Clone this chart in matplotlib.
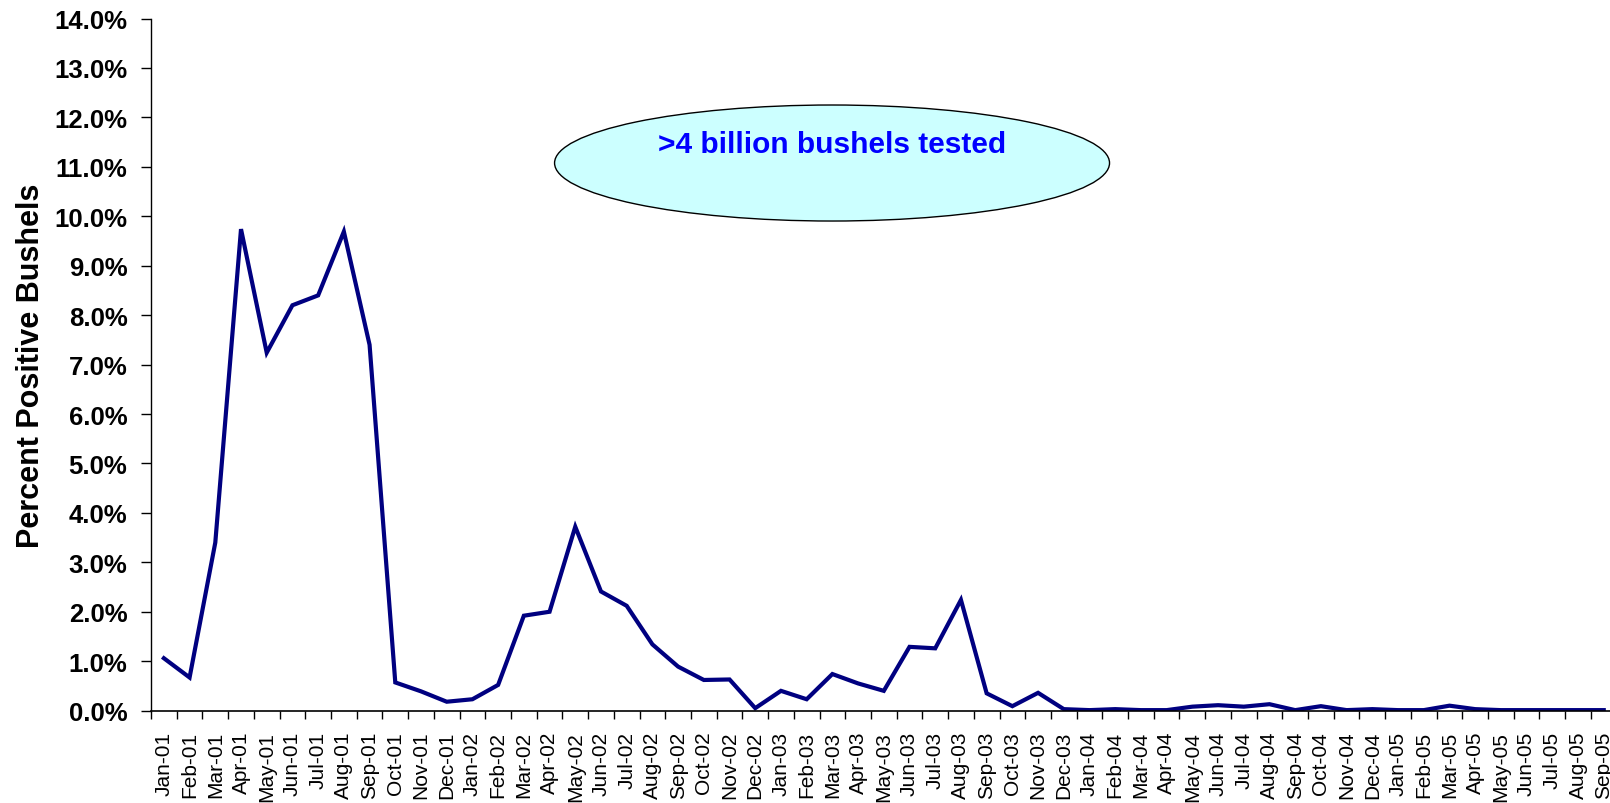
import numpy as np
import matplotlib
matplotlib.use('Agg')
import matplotlib.pyplot as plt
from matplotlib.patches import Ellipse
from matplotlib.ticker import FuncFormatter

plt.rcParams['font.family'] = ['Liberation Sans', 'DejaVu Sans']

# Meses (Jan-01 ... Sep-05)
months = ['Jan', 'Feb', 'Mar', 'Apr', 'May', 'Jun',
          'Jul', 'Aug', 'Sep', 'Oct', 'Nov', 'Dec']
labels = ['%s-%02d' % (m, y) for y in range(1, 6) for m in months][:57]

# Percentual de bushels positivos
pct = [1.06, 0.67, 3.40, 9.74, 7.24, 8.20, 8.40, 9.69, 7.40, 0.57, 0.39, 0.18,
       0.23, 0.52, 1.92, 2.00, 3.72, 2.41, 2.12, 1.34, 0.89, 0.62, 0.63, 0.05,
       0.40, 0.23, 0.74, 0.55, 0.40, 1.29, 1.26, 2.24, 0.35, 0.09, 0.36, 0.03,
       0.01, 0.03, 0.01, 0.01, 0.08, 0.11, 0.08, 0.13, 0.01, 0.09, 0.01, 0.03,
       0.01, 0.01, 0.10, 0.03, 0.01, 0.01, 0.01, 0.01, 0.01]

annot_text = '>4 billion bushels tested'

x = np.arange(len(pct))

fig = plt.figure(figsize=(16.10, 8.04), dpi=100)
ax = fig.add_axes([0.0938, 0.1149, 0.9103, 0.8608])

ax.plot(x, pct, color='#000080', lw=3.0, solid_joinstyle='miter')

ax.set_xlim(-0.5, len(pct) - 0.5)
ax.set_ylim(0, 14)

# eixo y
ax.set_yticks(np.arange(0, 14.5, 1))
ax.yaxis.set_major_formatter(FuncFormatter(lambda v, p: '%.1f%%' % v))
ax.tick_params(axis='y', direction='out', length=7.5, width=1, pad=9.5,
               labelsize=18.5)
for t in ax.get_yticklabels():
    t.set_fontweight('bold')

# eixo x: rótulos no centro, marcas nas divisas
ax.set_xticks(x)
ax.set_xticklabels(labels, rotation=90, fontsize=15)
ax.set_xticks(np.arange(-0.5, len(pct), 1), minor=True)
ax.tick_params(axis='x', which='major', length=0, pad=14.5)
ax.tick_params(axis='x', which='minor', direction='out', length=6, width=1)

for s in ['top', 'right']:
    ax.spines[s].set_visible(False)
ax.spines['left'].set_linewidth(1)
ax.spines['bottom'].set_linewidth(1.2)

ax.set_ylabel('Percent Positive Bushels', fontsize=22, fontweight='bold',
              va='center')
ax.yaxis.set_label_coords(-(151 - 31) / 1465.6, 0.5)

# elipse com anotação
ell = Ellipse((0.5168, 0.796), 0.3447, 0.1443, transform=fig.transFigure,
              facecolor='#CCFFFF', edgecolor='black', lw=1.0, zorder=5)
fig.patches.append(ell)
fig.text(0.5168, 0.8197, annot_text, color='#0000FF', fontsize=21.5,
         fontweight='bold', ha='center', va='center', zorder=6)

plt.savefig('out.png', dpi=100)
